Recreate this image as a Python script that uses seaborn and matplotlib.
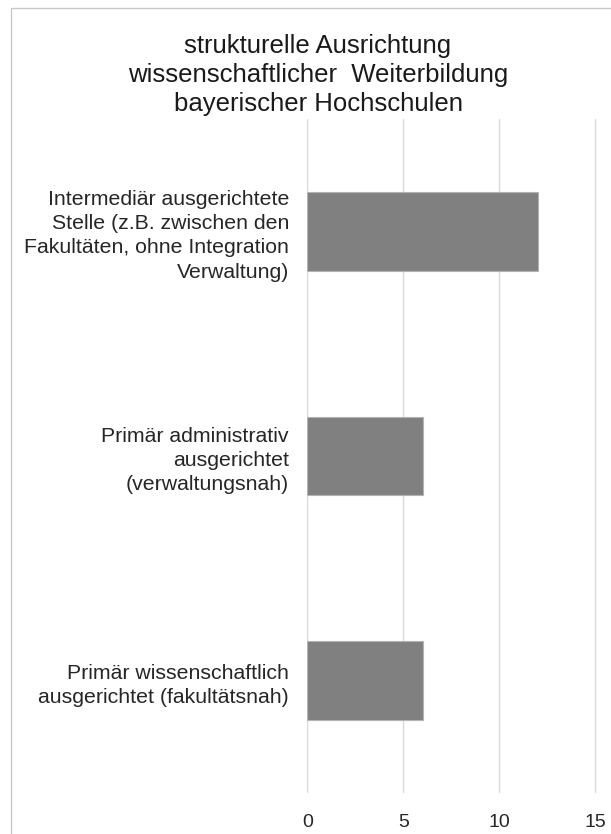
import matplotlib
matplotlib.use("Agg")
import matplotlib.pyplot as plt
import seaborn as sns
import pandas as pd
from matplotlib.patches import Rectangle

categories = [
    "Intermediär ausgerichtete\nStelle (z.B. zwischen den\nFakultäten, ohne Integration\nVerwaltung)",
    "Primär administrativ\nausgerichtet\n(verwaltungsnah)",
    "Primär wissenschaftlich\nausgerichtet (fakultätsnah)",
]
values = [12, 6, 6]
x_ticks = [0, 5, 10, 15]
title = "strukturelle Ausrichtung\nwissenschaftlicher  Weiterbildung\nbayerischer Hochschulen"

sns.set_theme(style="white")
plt.rcParams["font.family"] = ["Liberation Sans", "DejaVu Sans"]

W, H = 611, 834
fig = plt.figure(figsize=(W / 100, H / 100), dpi=100)
ax = fig.add_axes([307 / W, 1 - 793 / H, (597 - 307) / W, (793 - 119) / H])

df = pd.DataFrame({"cat": categories, "val": values})
sns.barplot(data=df, x="val", y="cat", orient="h", color="#808080",
            saturation=1, width=0.35, edgecolor="#b3b3b3", linewidth=0.8, ax=ax)

ax.set_xlim(-0.02, 15.08)
ax.set_ylim(2.5, -0.5)
ax.set_xticks(x_ticks)
ax.set_xticklabels([str(t) for t in x_ticks])
ax.set_xlabel("")
ax.set_ylabel("")
for s in ax.spines.values():
    s.set_visible(False)
ax.xaxis.grid(True, color="#d9d9d9", linewidth=1.0)
ax.set_axisbelow(True)
ax.tick_params(axis="x", length=0, pad=15, labelsize=14, labelcolor="#262626")
ax.tick_params(axis="y", length=0, pad=13, labelsize=15.3, labelcolor="#262626")
for lbl in ax.get_yticklabels():
    lbl.set_multialignment("right")
    lbl.set_linespacing(1.34)

fig.text(318 / W, 1 - 75 / H, title, ha="center", va="center",
         fontsize=18.5, color="#1a1a1a", multialignment="center", linespacing=1.27)

border = Rectangle((10.5 / W, -0.5), 2.0, 1 - 7.5 / H + 0.5, transform=fig.transFigure,
                   fill=False, edgecolor="#c8c8c8", linewidth=1.0, clip_on=False)
fig.patches.append(border)

fig.savefig("out.png", dpi=100, facecolor="white")
